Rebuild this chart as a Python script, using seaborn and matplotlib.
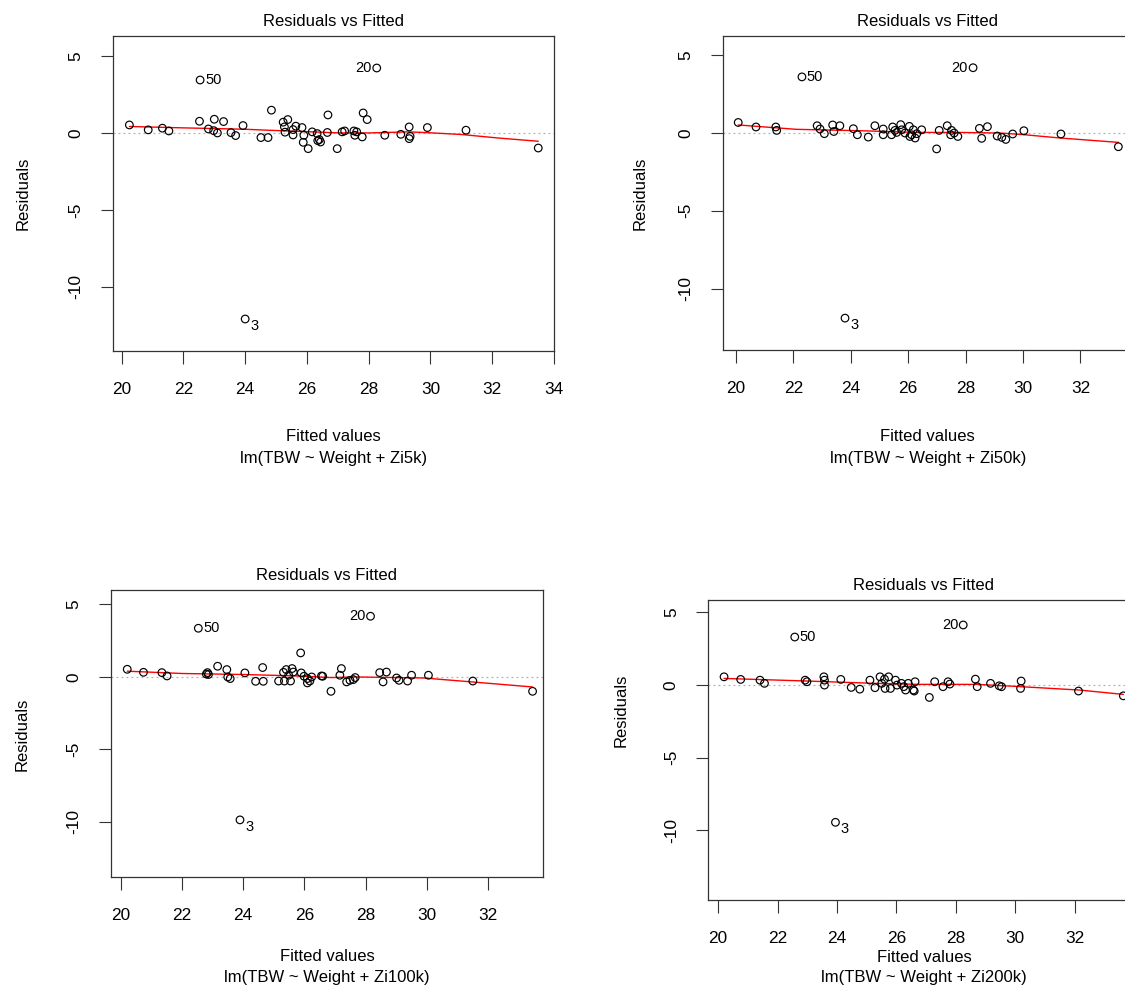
import numpy as np
import pandas as pd
import matplotlib
matplotlib.use("Agg")
import matplotlib.pyplot as plt
import seaborn as sns

# ---------------- data ----------------
p1_fitted = [20.25, 20.86, 21.32, 21.53, 22.52, 23.00, 23.30, 22.81, 23.10, 22.98, 23.54, 23.69, 23.93,
             24.85, 24.51, 24.74, 25.23, 25.38, 25.27, 25.29, 25.55, 25.64, 25.84, 25.55, 25.90, 25.88,
             26.04, 26.17, 26.33, 26.40, 26.35, 26.44, 26.68, 26.66, 26.98, 27.14, 27.22, 27.52, 27.61,
             27.55, 27.79, 27.82, 27.95, 28.52, 29.04, 29.31, 29.34, 29.31, 29.90, 31.15, 33.49,
             22.54, 28.26, 24.00]
p1_resid = [0.52, 0.20, 0.31, 0.13, 0.76, 0.89, 0.74, 0.26, 0.00, 0.15, 0.02, -0.17, 0.48,
            1.48, -0.30, -0.30, 0.70, 0.87, 0.39, 0.05, 0.22, 0.44, 0.35, -0.13, -0.15, -0.61,
            -1.02, 0.07, -0.04, -0.43, -0.50, -0.59, 1.17, 0.03, -1.02, 0.07, 0.13, 0.13, 0.07,
            -0.15, -0.26, 1.30, 0.87, -0.15, -0.09, 0.39, -0.22, -0.37, 0.35, 0.18, -0.98,
            3.44, 4.22, -12.09]
p1_smooth_x = [20.25, 22.0, 24.0, 24.7, 25.5, 27.1, 28.0, 29.3, 29.9, 31.0, 32.2, 33.49]
p1_smooth_y = [0.42, 0.33, 0.24, 0.18, 0.12, 0.00, 0.00, 0.07, 0.02, -0.10, -0.33, -0.54]

p2_fitted = [20.08, 20.70, 21.39, 21.42, 22.83, 22.93, 23.08, 23.37, 23.41, 23.62, 24.09, 24.23, 24.61,
             24.84, 25.13, 25.13, 25.46, 25.54, 25.42, 25.74, 25.77, 25.89, 25.60, 26.06, 26.18, 26.30,
             26.04, 26.12, 26.24, 26.47, 27.08, 26.99, 27.36, 27.51, 27.48, 27.73, 27.60, 28.48, 28.76,
             28.56, 29.10, 29.26, 29.40, 29.64, 30.03, 31.32, 33.32,
             22.30, 28.26, 23.80]
p2_resid = [0.68, 0.39, 0.39, 0.17, 0.47, 0.26, -0.04, 0.52, 0.10, 0.47, 0.28, -0.11, -0.26,
            0.47, 0.26, -0.11, 0.39, 0.17, -0.11, 0.54, 0.21, 0.00, 0.04, -0.22, 0.21, -0.04,
            0.43, -0.11, -0.32, 0.21, 0.17, -1.02, 0.47, 0.17, -0.11, -0.22, 0.00, 0.30, 0.41,
            -0.34, -0.19, -0.28, -0.41, -0.06, 0.15, -0.06, -0.88,
            3.61, 4.20, -11.90]
p2_smooth_x = [20.08, 22.1, 24.3, 26.3, 27.8, 29.2, 30.0, 31.3, 33.32]
p2_smooth_y = [0.52, 0.24, 0.15, 0.04, 0.04, 0.00, -0.10, -0.32, -0.60]

p3_fitted = [20.22, 20.75, 21.35, 21.52, 22.84, 22.87, 22.80, 23.17, 23.47, 23.50, 23.58, 24.06, 24.64,
             24.41, 24.66, 25.16, 25.32, 25.41, 25.60, 25.64, 25.49, 25.35, 25.55, 25.88, 25.90, 25.99,
             26.10, 26.18, 26.10, 26.24, 26.56, 26.87, 26.60, 27.21, 27.16, 27.38, 27.49, 27.66, 27.60,
             28.46, 28.68, 28.57, 29.01, 29.09, 29.37, 29.50, 30.05, 31.50, 33.45,
             22.54, 28.16, 23.90]
p3_resid = [0.53, 0.32, 0.30, 0.07, 0.30, 0.17, 0.20, 0.74, 0.51, 0.00, -0.11, 0.28, 0.65,
            -0.30, -0.30, -0.28, 0.32, 0.51, 0.58, 0.34, 0.12, -0.28, -0.28, 1.66, 0.28, 0.05,
            -0.11, -0.28, -0.41, 0.00, 0.07, -0.99, 0.05, 0.58, 0.12, -0.34, -0.23, -0.04, -0.18,
            0.30, 0.34, -0.34, -0.07, -0.23, -0.28, 0.12, 0.12, -0.28, -0.99,
            3.36, 4.19, -9.86]
p3_smooth_x = [20.22, 22.0, 24.0, 25.77, 26.87, 27.7, 29.9, 31.46, 33.45]
p3_smooth_y = [0.40, 0.24, 0.17, 0.07, -0.04, 0.00, -0.07, -0.34, -0.69]

p4_fitted = [20.20, 20.76, 21.41, 21.56, 22.93, 22.99, 23.56, 23.58, 23.58, 24.13, 24.48, 24.77, 25.11,
             25.28, 25.45, 25.60, 25.74, 25.51, 25.62, 25.80, 25.97, 26.02, 26.17, 26.25, 26.31, 26.40,
             26.60, 26.63, 26.57, 27.11, 27.29, 27.57, 27.74, 27.80, 28.66, 28.72, 29.17, 29.46, 29.54,
             30.20, 30.18, 32.13, 33.64,
             22.58, 28.25, 23.95]
p4_resid = [0.57, 0.39, 0.34, 0.12, 0.34, 0.23, 0.57, 0.34, 0.00, 0.39, -0.16, -0.28, 0.34,
            -0.18, 0.57, 0.41, 0.57, 0.12, -0.23, -0.23, 0.34, 0.00, 0.12, -0.11, -0.34, 0.12,
            -0.41, 0.23, -0.34, -0.85, 0.23, -0.11, 0.23, 0.07, 0.41, -0.11, 0.12, -0.05, -0.11,
            0.28, -0.23, -0.41, -0.74,
            3.31, 4.14, -9.45]
p4_smooth_x = [20.20, 22.99, 25.28, 26.77, 28.72, 30.2, 32.15, 33.64]
p4_smooth_y = [0.46, 0.28, 0.12, 0.05, 0.05, -0.11, -0.34, -0.64]

id_labels = ["50", "20", "3"]
xticks = [20, 22, 24, 26, 28, 30, 32, 34]
yticks = [-10, -5, 0, 5]
models = ["lm(TBW ~ Weight + Zi5k)", "lm(TBW ~ Weight + Zi50k)",
          "lm(TBW ~ Weight + Zi100k)", "lm(TBW ~ Weight + Zi200k)"]

# ---------------- figure ----------------
sns.set_style("white")
plt.rcParams['font.family'] = ['Liberation Sans', 'DejaVu Sans']
plt.rcParams['text.color'] = 'black'
plt.rcParams['xtick.labelcolor'] = 'black'
plt.rcParams['ytick.labelcolor'] = 'black'
W, H = 1125, 988
fig = plt.figure(figsize=(W / 100, H / 100), dpi=100)


def px_axes(left, top, right, bottom):
    return fig.add_axes([left / W, 1 - bottom / H, (right - left) / W, (bottom - top) / H])


panels = [
    dict(box=(112.7, 36, 554, 351), xlim=(19.71, 34.0), ylim=(-14.17, 6.3), xmax_tick=34,
         fx=p1_fitted, ry=p1_resid, sx=p1_smooth_x, sy=p1_smooth_y,
         ylab=(23, 193), xl_y=(436, 458)),
    dict(box=(722.7, 36, 1133, 350), xlim=(19.54, 33.83), ylim=(-13.95, 6.24), xmax_tick=32,
         fx=p2_fitted, ry=p2_resid, sx=p2_smooth_x, sy=p2_smooth_y,
         ylab=(640, 193), xl_y=(436, 458)),
    dict(box=(110.7, 590, 543.3, 877), xlim=(19.68, 33.8), ylim=(-13.8, 6.0), xmax_tick=32,
         fx=p3_fitted, ry=p3_resid, sx=p3_smooth_x, sy=p3_smooth_y,
         ylab=(22, 734), xl_y=(956, 977)),
    dict(box=(708, 600, 1140, 900), xlim=(19.66, 34.2), ylim=(-14.8, 5.86), xmax_tick=32,
         fx=p4_fitted, ry=p4_resid, sx=p4_smooth_x, sy=p4_smooth_y,
         ylab=(621, 710), xl_y=(957, 977)),
]

for i, p in enumerate(panels):
    l, t, r, b = p["box"]
    ax = px_axes(l, t, r, b)
    df = pd.DataFrame({"fitted": p["fx"], "resid": p["ry"]})
    sm = pd.DataFrame({"x": p["sx"], "y": p["sy"]})
    ax.axhline(0, color="#b0b0b0", lw=0.9, ls=(0, (1.5, 2.5)), zorder=1)
    sns.scatterplot(data=df, x="fitted", y="resid", ax=ax, marker="o", s=30,
                    facecolors="none", edgecolors="black", linewidths=0.85, zorder=3)
    sns.lineplot(data=sm, x="x", y="y", ax=ax, color="red", lw=1.0, zorder=2,
                 estimator=None, sort=True)
    n = len(df)
    xmid = np.mean(p["xlim"])
    for k, lab in enumerate(id_labels):
        xv = p["fx"][n - 3 + k]
        yv = p["ry"][n - 3 + k]
        if lab == "3":
            ax.annotate(lab, (xv, yv), xytext=(5, -7), textcoords="offset pixels",
                        ha="left", va="center", fontsize=10.5)
        elif xv > xmid:
            ax.annotate(lab, (xv, yv), xytext=(-5, 0), textcoords="offset pixels",
                        ha="right", va="center", fontsize=10.5)
        else:
            ax.annotate(lab, (xv, yv), xytext=(5, 0), textcoords="offset pixels",
                        ha="left", va="center", fontsize=10.5)
    ax.set_xlim(*p["xlim"])
    ax.set_ylim(*p["ylim"])
    ax.set_xticks([v for v in xticks if v <= p["xmax_tick"]])
    ax.set_yticks(yticks)
    ax.set_yticklabels([str(v) for v in yticks], rotation=90, va="center")
    ax.tick_params(axis="both", direction="out", length=9, width=0.8, color="#333333",
                   labelsize=12.4, bottom=True, left=True)
    ax.tick_params(axis="x", pad=13)
    ax.tick_params(axis="y", pad=12)
    for s in ax.spines.values():
        s.set_visible(True)
        s.set_color("#333333")
        s.set_linewidth(0.9)
    ax.set_xlabel("")
    ax.set_ylabel("")
    ax.set_title("Residuals vs Fitted", fontsize=12, pad=7)
    fig.text(p["ylab"][0] / W, 1 - p["ylab"][1] / H, "Residuals", rotation=90,
             ha="center", va="center", fontsize=12)
    cx = (l + r) / 2
    fig.text(cx / W, 1 - p["xl_y"][0] / H, "Fitted values", ha="center", va="center", fontsize=12)
    fig.text(cx / W, 1 - p["xl_y"][1] / H, models[i], ha="center", va="center", fontsize=12)

fig.savefig("out.png", dpi=100)
